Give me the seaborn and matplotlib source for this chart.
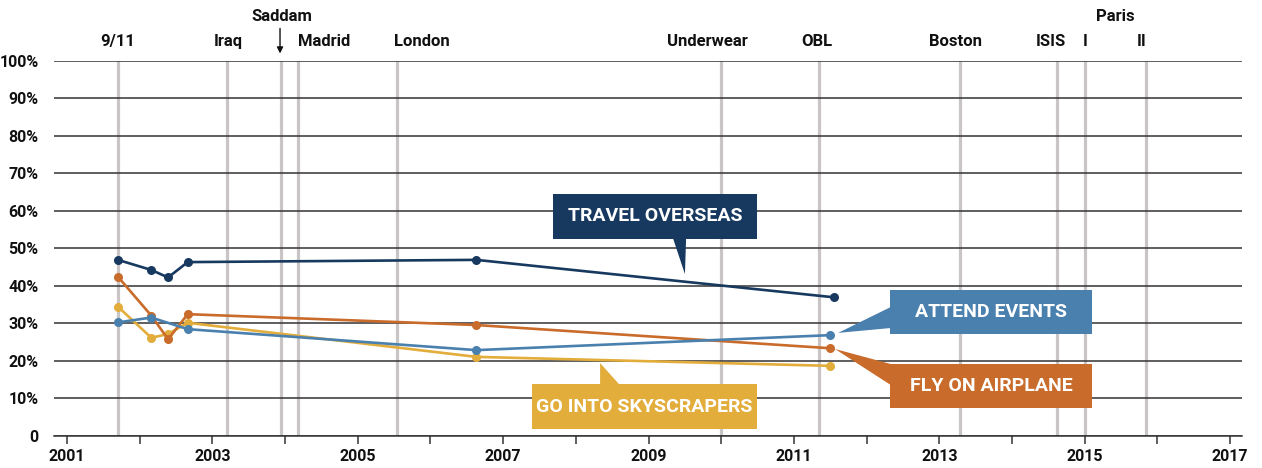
import matplotlib
matplotlib.use("Agg")
import matplotlib.pyplot as plt
from matplotlib.patches import Polygon, Rectangle
import pandas as pd
import seaborn as sns

# survey dates (decimal years) and share of people less willing to ... (%)
travel_x = [2001.70, 2002.16, 2002.39, 2002.66, 2006.63, 2011.55]
travel_y = [46.9, 44.2, 42.2, 46.3, 46.9, 36.9]
fly_x = [2001.70, 2002.16, 2002.39, 2002.66, 2006.63, 2011.50]
fly_y = [42.4, 32.0, 25.7, 32.4, 29.5, 23.3]
sky_x = [2001.70, 2002.16, 2002.39, 2002.66, 2006.63, 2011.50]
sky_y = [34.4, 26.1, 27.1, 30.1, 21.0, 18.6]
attend_x = [2001.70, 2002.16, 2002.66, 2006.63, 2011.50]
attend_y = [30.2, 31.5, 28.4, 22.8, 26.8]

series_names = ["GO INTO SKYSCRAPERS", "FLY ON AIRPLANE", "ATTEND EVENTS", "TRAVEL OVERSEAS"]
series_colors = ["#e2ad3b", "#c96b2a", "#4a80ae", "#17395f"]

# terror events marked with grey lines
event_dates = [2001.70, 2003.20, 2003.95, 2004.18, 2005.54, 2010.00,
               2011.35, 2013.28, 2014.62, 2015.00, 2015.84]
event_labels = ["9/11", "Iraq", "", "Madrid", "London", "Underwear",
                "OBL", "Boston", "ISIS", "I", "II"]

year_ticks = list(range(2001, 2018))
year_labels = [str(y) if y % 2 == 1 else "" for y in year_ticks]
pct_ticks = list(range(0, 101, 10))
pct_labels = ["0"] + [f"{p}%" for p in pct_ticks[1:]]

df = pd.concat([
    pd.DataFrame({"year": sky_x, "pct": sky_y, "series": series_names[0]}),
    pd.DataFrame({"year": fly_x, "pct": fly_y, "series": series_names[1]}),
    pd.DataFrame({"year": attend_x, "pct": attend_y, "series": series_names[2]}),
    pd.DataFrame({"year": travel_x, "pct": travel_y, "series": series_names[3]}),
], ignore_index=True)
palette = dict(zip(series_names, series_colors))

sns.set_theme(style="white")
plt.rcParams["font.family"] = ["Roboto", "DejaVu Sans"]
plt.rcParams["font.weight"] = "bold"

fig = plt.figure(figsize=(12.62, 4.68), dpi=100)
ax = fig.add_axes([0.0428, 0.0694, 0.9414, 0.8003])

# grey event lines behind everything
for d in event_dates:
    ax.axvline(d, color="#c9c5c5", lw=2.3, zorder=0.3)

sns.lineplot(data=df, x="year", y="pct", hue="series", hue_order=series_names,
             palette=palette, marker="o", markersize=6.5, markeredgewidth=0,
             linewidth=1.9, estimator=None, sort=False, legend=False, ax=ax, zorder=3)

ax.set_xlim(2000.821, 2017.164)
ax.set_ylim(0, 100)
ax.set_xticks(year_ticks)
ax.set_xticklabels(year_labels, fontsize=11.5, fontweight="bold")
ax.set_yticks(pct_ticks)
ax.set_yticklabels(pct_labels, fontsize=11.5, fontweight="bold")
ax.set_xlabel("")
ax.set_ylabel("")

ax.set_axisbelow(True)
ax.yaxis.grid(True, color="#333333", lw=1.1)
ax.xaxis.grid(False)
for s in ["top", "right", "left"]:
    ax.spines[s].set_visible(False)
ax.spines["bottom"].set_color("#333333")
ax.spines["bottom"].set_linewidth(1.1)
ax.tick_params(axis="x", direction="out", length=6, width=1.1, color="#333333",
               pad=4, bottom=True, labelcolor="#111111")
ax.tick_params(axis="y", length=0, pad=11, labelcolor="#111111")

# event labels along the top
label_dx = [0, 1.5, 0, 26, 24.5, -13.5, -3, -4, -6, 0, -4]
for d, lab, dx in zip(event_dates, event_labels, label_dx):
    if lab:
        ax.annotate(lab, xy=(d, 105.3), xytext=(dx, 0), textcoords="offset pixels",
                    ha="center", va="center", fontsize=12, fontweight="bold",
                    color="#111111", annotation_clip=False)
ax.annotate("Saddam", xy=(event_dates[2], 111.8), ha="center", va="center",
            fontsize=12, fontweight="bold", color="#111111", annotation_clip=False)
ax.annotate("Paris", xy=((event_dates[9] + event_dates[10]) / 2, 111.8),
            ha="center", va="center", fontsize=12, fontweight="bold",
            color="#111111", annotation_clip=False)
ax.annotate("", xy=(event_dates[2] - 0.02, 102.0), xytext=(event_dates[2] - 0.02, 108.7),
            arrowprops=dict(arrowstyle="-|>", color="#111111", lw=1.0,
                            mutation_scale=9, shrinkA=0, shrinkB=0),
            annotation_clip=False)

# callout boxes: (x0, x1, y0, y1), pointer triangle, colour, text
callouts = [
    ((2007.686, 2010.492, 52.47, 64.49),
     [(2009.337, 52.6), (2009.516, 52.6), (2009.50, 43.1)], series_colors[3], series_names[3]),
    ((2012.322, 2015.101, 27.10, 38.85),
     [(2012.33, 34.3), (2012.33, 28.7), (2011.607, 27.4)], series_colors[2], series_names[2]),
    ((2012.322, 2015.101, 7.34, 19.09),
     [(2012.33, 19.1), (2012.33, 13.5), (2011.565, 23.1)], series_colors[1], series_names[1]),
    ((2007.397, 2010.492, 1.74, 13.75),
     [(2008.333, 13.7), (2008.594, 13.7), (2008.333, 19.36)], series_colors[0], series_names[0]),
]
for (x0, x1, y0, y1), tri, col, txt in callouts:
    ax.add_patch(Rectangle((x0, y0), x1 - x0, y1 - y0, facecolor=col,
                           edgecolor="none", zorder=4))
    ax.add_patch(Polygon(tri, closed=True, facecolor=col, edgecolor="none", zorder=4))
    ax.text((x0 + x1) / 2, (y0 + y1) / 2, txt, ha="center", va="center",
            fontsize=14, fontweight="bold", color="white", zorder=5)

fig.savefig("out.png", dpi=100)
